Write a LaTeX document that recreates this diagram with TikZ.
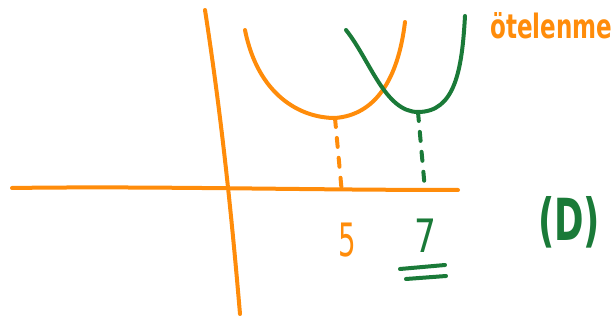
\documentclass[tikz,border=0pt]{standalone}
\usepackage{fontspec}
\setmainfont{DejaVu Sans}
\definecolor{orng}{HTML}{FF8C0A}
\definecolor{grn}{HTML}{1A7A38}
\tikzset{
  pen/.style={line width=4pt, line cap=round, line join=round},
  dashpen/.style={pen, dash pattern=on 9pt off 11pt},
  lbl/.style={inner sep=0pt, font=\fontsize{46}{46}\selectfont}
}
\begin{document}
\begin{tikzpicture}[x=1pt,y=-1pt]
\useasboundingbox (0,0) rectangle (616,320);
% axes
\coordinate (vt) at (205,10);
\coordinate (vb) at (240,314);
\coordinate (hl) at (12,188);
\coordinate (hr) at (458,190);
\draw[pen,orng] (vt) .. controls (222,120) and (232,220) .. (vb);
\draw[pen,orng] (hl) .. controls (150,186) and (300,190) .. (hr);
% orange parabola
\coordinate (oa) at (245,30);
\coordinate (om) at (335,118);
\coordinate (ob) at (405,22);
\draw[pen,orng] (oa) .. controls (258,95) and (300,118) .. (om)
   .. controls (375,115) and (398,80) .. (ob);
% green parabola
\coordinate (ga) at (346,30);
\coordinate (gm) at (418,112);
\coordinate (gb) at (465,16);
\draw[pen,grn] (ga) .. controls (370,60) and (385,112) .. (gm)
   .. controls (455,112) and (462,70) .. (gb);
% dashed drops
\coordinate (o5) at (342,194);
\coordinate (g7) at (425,190);
\draw[dashpen,orng] (om) -- (o5);
\draw[dashpen,grn] (gm) -- (g7);
% labels
\node[lbl,orng] (five) at (347,240) {\scalebox{0.6}[1]{5}};
\node[lbl,grn] (seven) at (425,236) {\scalebox{0.75}[1]{7}};
\coordinate (u1a) at (400,269);
\coordinate (u1b) at (445,265);
\coordinate (u2a) at (406,279);
\coordinate (u2b) at (446,276);
\draw[pen,grn] (u1a) -- (u1b);
\draw[pen,grn] (u2a) -- (u2b);
\node[inner sep=0pt, font=\bfseries\fontsize{25}{25}\selectfont, orng, anchor=west] (ot) at (490,26) {\resizebox{122pt}{26pt}{ötelenme}};
\node[grn, inner sep=0pt, font=\bfseries\fontsize{38}{38}\selectfont] (dd) at (569,222) {\resizebox{62pt}{44pt}{(D)}};
\end{tikzpicture}
\end{document}
